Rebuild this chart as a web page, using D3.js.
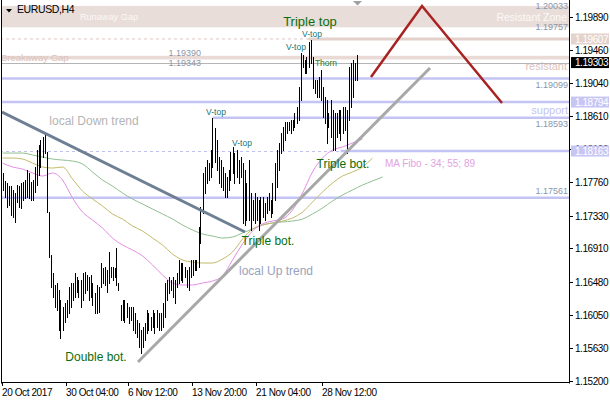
<!DOCTYPE html>
<html><head><meta charset="utf-8">
<script src="https://cdn.jsdelivr.net/npm/d3@7"></script>
<style>
body{margin:0;background:#fff}
svg{display:block}
text{font-family:"Liberation Sans",Arial,sans-serif}
</style>
</head><body>
<svg id="c" width="610" height="400"></svg>
<script>
// ---------- DATA ----------
const symbol = "EURUSD,H4";
const dateLabels = ["20 Oct 2017","30 Oct 04:00","6 Nov 12:00","13 Nov 20:00","21 Nov 04:00","28 Nov 12:00"];
const dateBarIdx = [0,32,63,95,127,160];
const priceTicks = [1.1989,1.1946,1.1904,1.1861,1.1819,1.1776,1.1733,1.1691,1.1648,1.1605,1.1563,1.1520];

const highs = [1.17880,1.17777,1.17751,1.17713,1.17713,1.17661,1.17622,1.17725,1.17713,1.17751,
1.17764,1.17790,1.17919,1.17880,1.17764,1.17790,1.17957,1.18176,1.18241,1.18305,
1.18344,1.18370,1.18151,1.17377,1.16823,1.16591,1.16437,1.16463,1.16372,1.16244,
1.16153,1.16205,1.16244,1.16411,1.16463,1.16463,1.16591,1.16540,1.16501,1.16501,
1.16591,1.16604,1.16566,1.16540,1.16566,1.16463,1.16334,1.16437,1.16411,1.16720,
1.16656,1.16669,1.16630,1.16862,1.16669,1.16669,1.16656,1.16914,1.16463,1.16179,
1.16244,1.16244,1.16205,1.16153,1.16153,1.16153,1.16076,1.15986,1.15947,1.15857,
1.15896,1.15947,1.16115,1.16076,1.16024,1.16115,1.16076,1.16115,1.16076,1.16076,
1.16205,1.16463,1.16501,1.16540,1.16501,1.16540,1.16501,1.16591,1.16759,1.16720,
1.16720,1.16669,1.16630,1.16669,1.16759,1.16759,1.16759,1.16759,1.17184,1.17442,
1.17880,1.17957,1.18047,1.18008,1.18176,1.18589,1.18460,1.18305,1.18086,1.18047,
1.17957,1.17880,1.17829,1.17919,1.18151,1.18215,1.18137,1.18176,1.18047,1.18086,
1.18008,1.17919,1.17751,1.18047,1.17622,1.17532,1.17622,1.17571,1.17532,1.17571,
1.17571,1.17493,1.17571,1.17622,1.17532,1.17751,1.18008,1.18176,1.18267,1.18395,
1.18473,1.18537,1.18537,1.18537,1.18563,1.18563,1.18653,1.18730,1.18988,1.19426,
1.19401,1.19336,1.19375,1.19568,1.19594,1.19375,1.19078,1.19078,1.19117,1.19207,
1.18988,1.18860,1.18821,1.18653,1.18821,1.18692,1.18653,1.18653,1.18692,1.18692,
1.18730,1.18730,1.18692,1.19246,1.19297,1.19336,1.19297,1.19401];

const lows = [1.17661,1.17571,1.17442,1.17468,1.17339,1.17313,1.17249,1.17506,1.17442,1.17429,
1.17532,1.17558,1.17571,1.17558,1.17532,1.17532,1.17635,1.17725,1.17854,1.17957,
1.18086,1.18137,1.17377,1.16798,1.16411,1.16282,1.16153,1.16115,1.15857,1.15754,
1.15857,1.15960,1.16024,1.16076,1.16153,1.16244,1.16282,1.16346,1.16282,1.16153,
1.16244,1.16334,1.16372,1.16244,1.16282,1.16179,1.16076,1.16076,1.16089,1.16411,
1.16463,1.16437,1.16346,1.16463,1.16540,1.16501,1.16540,1.16437,1.16372,1.15986,
1.15986,1.15960,1.16024,1.15947,1.15986,1.15857,1.15818,1.15767,1.15638,1.15560,
1.15638,1.15728,1.15818,1.15857,1.15857,1.15896,1.15818,1.15896,1.15857,1.15857,
1.15896,1.16024,1.16244,1.16334,1.16372,1.16282,1.16205,1.16411,1.16463,1.16501,
1.16476,1.16540,1.16411,1.16372,1.16540,1.16566,1.16630,1.16630,1.16669,1.16978,
1.17365,1.17622,1.17751,1.17790,1.17829,1.17957,1.18021,1.17919,1.17751,1.17700,
1.17661,1.17571,1.17571,1.17661,1.17790,1.17880,1.17751,1.17829,1.17751,1.17829,
1.17236,1.17210,1.17274,1.17274,1.17146,1.17274,1.17236,1.17274,1.17146,1.17236,
1.17313,1.17274,1.17365,1.17403,1.17313,1.17365,1.17532,1.17700,1.17919,1.18137,
1.18176,1.18305,1.18395,1.18434,1.18395,1.18434,1.18473,1.18524,1.18563,1.18821,
1.19246,1.19169,1.19169,1.19246,1.19297,1.18975,1.18911,1.18860,1.18860,1.18821,
1.18602,1.18524,1.18267,1.18473,1.18344,1.18176,1.18176,1.18344,1.18395,1.18305,
1.18395,1.18434,1.18137,1.18563,1.18730,1.18860,1.19078,1.19078];

// moving averages, sampled every 5 bars (starting at bar 0)
const maStep = 5;
const ma34 = [1.18008,1.17957,1.17931,1.17880,1.17841,1.17880,1.17790,1.17558,1.17377,1.17274,
1.17171,1.17042,1.16952,1.16888,1.16811,1.16695,1.16566,1.16463,1.16437,1.16437,
1.16463,1.16488,1.16553,1.16759,1.16965,1.17133,1.17223,1.17261,1.17287,1.17403,
1.17622,1.17893,1.18073,1.18176,1.18215,1.18267,1.18318];
const ma55 = [1.18073,1.18073,1.18060,1.18008,1.17957,1.17944,1.17957,1.17803,1.17648,1.17545,
1.17455,1.17352,1.17287,1.17197,1.17133,1.17042,1.16952,1.16836,1.16759,1.16733,
1.16720,1.16720,1.16772,1.16862,1.17029,1.17158,1.17210,1.17236,1.17261,1.17300,
1.17377,1.17506,1.17635,1.17751,1.17841,1.17893,1.17957,1.18073];
const ma89 = [1.18137,1.18137,1.18137,1.18112,1.18086,1.18060,1.18047,1.18034,1.17996,1.17893,
1.17790,1.17712,1.17622,1.17545,1.17480,1.17416,1.17352,1.17287,1.17210,1.17146,
1.17094,1.17068,1.17042,1.17055,1.17107,1.17158,1.17210,1.17236,1.17249,1.17261,
1.17287,1.17352,1.17429,1.17519,1.17596,1.17661,1.17725,1.17777,1.17829];

// price levels
const zoneTop = 1.20033, zoneBottom = 1.19757;
const gapTop = 1.19390, gapBottom = 1.19343;
const lastPrice = 1.19303;
const resistLevel = 1.19607, resistStartBar = 153;
const blueLevels = [1.19099, 1.18794, 1.17561];
const vtopLevel = 1.18593, vtopStartBar = 105;
const supportDash = 1.18163, supportStartBar = 169;
const levelTexts = [["1.20033",1.20033,0],["1.19757",1.19757,-1],["1.19099",1.19099,6],["1.18593",1.18593,6],["1.17561",1.17561,-7]];
const gapTexts = [["1.19390",1.19390,-3],["1.19343",1.19343,3]];
const axisBoxes = [[1.19607,"#e4d2cc","#fff"],[1.19303,"#000","#fff"],[1.18794,"#c6c6f5","#fff"],[1.18163,"#c6c6f5","#fff"]];

// trend lines: [barIdx, price]
const downTrend = [[-0.25,1.18666],[121.25,1.17120]];
const upTrend = [[67.75,1.15445],[213.75,1.19233]];
const forecast = [[184.25,1.19117],[209.75,1.20032],[249.75,1.18782]];

// annotations: text, barIdx, price
const patterns = [
  ["Triple top",153.75,1.19838,13,"#0d6e0d"],
  ["V-top",106.75,1.18666,8.5,"#167575"],
  ["V-top",119.75,1.18267,8.5,"#167575"],
  ["V-top",146.75,1.19503,8.5,"#167575"],
  ["V-top",154.75,1.19671,8.5,"#167575"],
  ["Thorn",161.75,1.19297,8.5,"#1f7a1f"],
  ["Triple bot.",170.25,1.17996,12,"#0d6e0d"],
  ["Triple bot.",132.75,1.17004,12,"#0d6e0d"],
  ["Double bot.",46.75,1.15509,12,"#0d6e0d"],
  ["local Down trend",45.75,1.18550,12,"#b4b4b4"],
  ["local Up trend",136.75,1.16617,12,"#97a3bd"],
  ["MA Fibo - 34; 55; 89",213.75,1.18008,10,"#e2a2e2"]
];

// ---------- LAYOUT ----------
const svg = d3.select("#c");
const R = 570, B = 383, Lft = 1.5;
const x = d3.scaleLinear().domain([0,177]).range([2.5,356.5]);
const y = d3.scaleLinear().domain([1.152,1.1989]).range([381,17]);

svg.append("defs").append("clipPath").attr("id","pc")
  .append("rect").attr("x",2).attr("y",0).attr("width",R-2).attr("height",B);
const g = svg.append("g").attr("clip-path","url(#pc)");

// zones
g.append("rect").attr("x",0).attr("width",R).attr("y",y(zoneTop)).attr("height",y(zoneBottom)-y(zoneTop)).attr("fill","#e9ddd9");
g.append("rect").attr("x",0).attr("width",R).attr("y",y(gapTop)).attr("height",y(gapBottom)-y(gapTop)).attr("fill","#e9dad6");

// resistance dashed + thick
g.append("line").attr("x1",0).attr("x2",R).attr("y1",y(resistLevel)).attr("y2",y(resistLevel))
  .attr("stroke","#e0c6c6").attr("stroke-dasharray","3,3");
g.append("line").attr("x1",x(resistStartBar)).attr("x2",R).attr("y1",y(resistLevel)).attr("y2",y(resistLevel))
  .attr("stroke","#e3d0ca").attr("stroke-width",3);

// last price line
g.append("line").attr("x1",0).attr("x2",R).attr("y1",Math.round(y(lastPrice))+0.5).attr("y2",Math.round(y(lastPrice))+0.5)
  .attr("stroke","#b4b4b4");

// blue levels
blueLevels.forEach(p=>{
  g.append("line").attr("x1",0).attr("x2",R).attr("y1",y(p)).attr("y2",y(p)).attr("stroke","#c4c4f4").attr("stroke-width",2.5);
});
g.append("line").attr("x1",x(vtopStartBar)).attr("x2",R).attr("y1",y(vtopLevel)).attr("y2",y(vtopLevel)).attr("stroke","#c4c4f4").attr("stroke-width",2.5);
g.append("line").attr("x1",0).attr("x2",R).attr("y1",Math.round(y(supportDash))+0.5).attr("y2",Math.round(y(supportDash))+0.5)
  .attr("stroke","#c0c0f0").attr("stroke-dasharray","3,3");
g.append("line").attr("x1",x(supportStartBar)).attr("x2",R).attr("y1",y(supportDash)).attr("y2",y(supportDash)).attr("stroke","#c4c4f4").attr("stroke-width",2.5);

// MAs
const maLine = d3.line().x((d,i)=>x(i*maStep)).y(d=>y(d)).curve(d3.curveMonotoneX);
[[ma89,"#8fbf8f"],[ma55,"#c2bb6a"],[ma34,"#e48ee4"]].forEach(([arr,c])=>{
  g.append("path").attr("d",maLine(arr)).attr("fill","none").attr("stroke",c).attr("stroke-width",1);
});

// bars
g.append("g").selectAll("line").data(highs).join("line")
  .attr("x1",(d,i)=>Math.round(x(i))+0.5).attr("x2",(d,i)=>Math.round(x(i))+0.5)
  .attr("y1",d=>Math.round(y(d))).attr("y2",(d,i)=>Math.round(y(lows[i]))+1)
  .attr("stroke","#000").attr("stroke-width",1);

// trend lines
const tl = d3.line().x(d=>x(d[0])).y(d=>y(d[1]));
g.append("path").attr("d",tl(downTrend)).attr("stroke","#6f7f93").attr("stroke-width",3).attr("fill","none");
g.append("path").attr("d",tl(upTrend)).attr("stroke","#a8a8a8").attr("stroke-width",3).attr("fill","none");
g.append("path").attr("d",tl(forecast)).attr("stroke","#a82222").attr("stroke-width",2.5).attr("fill","none");

// zone texts
g.append("text").attr("x",x(53.25)).attr("y",y(1.1989)+3.2).attr("text-anchor","middle").attr("font-size",9.2).attr("fill","#fbf8f7").text("Runaway Gap");
g.append("text").attr("x",567).attr("y",y(1.1989)+3.7).attr("text-anchor","end").attr("font-size",10.5).attr("fill","#fbf8f7").text("Resistant Zone");
g.append("text").attr("x",1).attr("y",y((gapTop+gapBottom)/2)+3.5).attr("font-size",9.5).attr("fill","#dcc2ba").text("Breakaway Gap");
g.append("text").attr("x",567).attr("y",y(lastPrice)+7).attr("text-anchor","end").attr("font-size",11).attr("fill","#dcc4bc").text("resistant");
g.append("text").attr("x",568).attr("y",y(1.18794)+11.5).attr("text-anchor","end").attr("font-size",11).attr("fill","#c4c4f2").text("support");

// level labels
levelTexts.forEach(([t,p,o])=>{
  g.append("text").attr("x",568).attr("y",y(p)+o+3.2).attr("text-anchor","end").attr("font-size",9).attr("fill","#8a96ab").text(t);
});
gapTexts.forEach(([t,p,o])=>{
  g.append("text").attr("x",201).attr("y",y(p)+o+3.2).attr("text-anchor","end").attr("font-size",9).attr("fill","#8a96ab").text(t);
});

// pattern annotations
patterns.forEach(([t,i,p,fs,c])=>{
  g.append("text").attr("x",x(i)).attr("y",y(p)+fs*0.36).attr("text-anchor","middle").attr("font-size",fs).attr("fill",c).text(t);
});

// shift marker + title
svg.append("path").attr("d",d3.line()([[353,1],[362,1],[357.5,5.5]])+"Z").attr("fill","#a0a0a0");
svg.append("path").attr("d",d3.line()([[6,9],[12,9],[9,12.5]])+"Z").attr("fill","#000");
svg.append("text").attr("x",17).attr("y",13).attr("font-size",10.5).attr("letter-spacing",-0.4).attr("fill","#000").text(symbol);

// frame
svg.append("line").attr("x1",Lft).attr("x2",Lft).attr("y1",0).attr("y2",B+0.5).attr("stroke","#000");
svg.append("line").attr("x1",R-0.5).attr("x2",R-0.5).attr("y1",0).attr("y2",B+0.5).attr("stroke","#000");
svg.append("line").attr("x1",1).attr("x2",R).attr("y1",B-0.5).attr("y2",B-0.5).attr("stroke","#000");

// right axis
priceTicks.forEach(p=>{
  const yy = Math.round(y(p))+0.5;
  svg.append("line").attr("x1",R).attr("x2",R+3).attr("y1",yy).attr("y2",yy).attr("stroke","#000");
  svg.append("text").attr("x",575).attr("y",yy+3.6).attr("font-size",10).attr("letter-spacing",-0.45).attr("fill","#000").text(p.toFixed(5));
});
axisBoxes.forEach(([p,bg,fg])=>{
  const yy = y(p);
  svg.append("rect").attr("x",R+1).attr("y",yy-5.5).attr("width",38).attr("height",11).attr("fill",bg);
  svg.append("text").attr("x",575).attr("y",yy+3.6).attr("font-size",10).attr("letter-spacing",-0.45).attr("fill",fg).text(p.toFixed(5));
});

// bottom axis
dateLabels.forEach((t,k)=>{
  const xx = Math.round(x(dateBarIdx[k]))-0.5;
  svg.append("line").attr("x1",xx).attr("x2",xx).attr("y1",B).attr("y2",B+3).attr("stroke","#000");
  svg.append("text").attr("x",xx-0.5).attr("y",396).attr("font-size",10).attr("letter-spacing",-0.4).attr("fill","#000").text(t);
});
</script>
</body></html>
